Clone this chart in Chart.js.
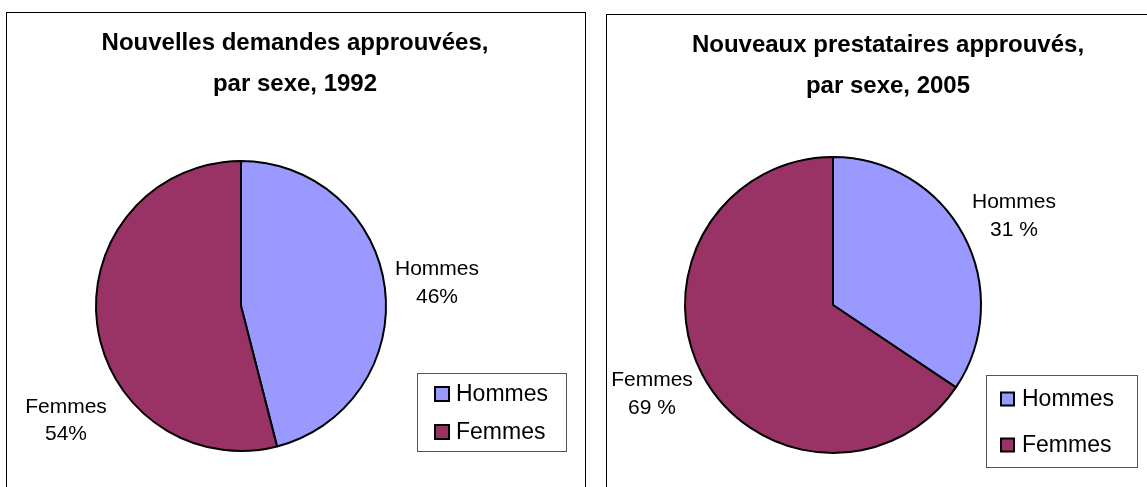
<!DOCTYPE html>
<html>
<head>
<meta charset="utf-8">
<script src="https://cdn.jsdelivr.net/npm/chart.js@4/dist/chart.umd.min.js"></script>
<style>
  html, body { margin: 0; padding: 0; background: #fff; width: 1147px; height: 487px; overflow: hidden; }
  .box { position: absolute; border: 1.5px solid #000; box-sizing: border-box; }
  canvas { position: absolute; }
</style>
</head>
<body>
<div class="box" style="left:6px; top:12px; width:580px; height:500px;"></div>
<div class="box" style="left:606px; top:14px; width:560px; height:500px;"></div>
<canvas id="c1" width="595" height="487" style="left:0; top:0;"></canvas>
<canvas id="c2" width="551" height="487" style="left:596px; top:0;"></canvas>
<script>
// ---- data ----
const categories = ["Hommes", "Femmes"];
const values1992 = [46, 54];
const labels1992 = ["46%", "54%"];
const values2005 = [34.4, 65.6];   // slice sizes as drawn
const labels2005 = ["31 %", "69 %"];
const title1992 = ["Nouvelles demandes approuvées,", "par sexe, 1992"];
const title2005 = ["Nouveaux prestataires approuvés,", "par sexe, 2005"];
const sliceColors = ["#9999FF", "#993366"];

const FONT = '"Liberation Sans", Arial, Helvetica, sans-serif';

function makeDecor(cfg) {
  return {
    id: 'decor',
    afterDraw(chart) {
      const ctx = chart.ctx;
      ctx.save();
      // title
      ctx.fillStyle = '#000';
      ctx.textAlign = 'center';
      ctx.textBaseline = 'middle';
      ctx.font = 'bold 24px ' + FONT;
      cfg.title.forEach((t, i) => ctx.fillText(t, cfg.titleX, cfg.titleY[i]));
      // data labels
      ctx.font = '21px ' + FONT;
      cfg.dataLabels.forEach((d, i) => {
        ctx.fillText(categories[i], d.x, d.y);
        ctx.fillText(cfg.pct[i], d.x, d.y + d.dy);
      });
      // legend
      const L = cfg.legend;
      ctx.strokeStyle = '#555';
      ctx.lineWidth = 1;
      ctx.strokeRect(L.x + 0.5, L.y + 0.5, L.w, L.h);
      ctx.font = L.font + 'px ' + FONT;
      ctx.textAlign = 'left';
      categories.forEach((c, i) => {
        const cy = L.rowY[i];
        ctx.fillStyle = sliceColors[i];
        ctx.fillRect(L.mx, cy - L.ms / 2, L.ms, L.ms);
        ctx.strokeStyle = '#000';
        ctx.lineWidth = 2;
        ctx.strokeRect(L.mx, cy - L.ms / 2, L.ms, L.ms);
        ctx.fillStyle = '#000';
        ctx.fillText(c, L.tx, cy + 1);
      });
      ctx.restore();
    }
  };
}

function makePie(id, values, padding, decor) {
  return new Chart(document.getElementById(id), {
    type: 'pie',
    data: {
      labels: categories,
      datasets: [{
        data: values,
        backgroundColor: sliceColors,
        borderColor: '#000',
        borderWidth: 2
      }]
    },
    options: {
      responsive: false,
      animation: false,
      devicePixelRatio: 1,
      layout: { padding: padding },
      plugins: { legend: { display: false }, title: { display: false }, tooltip: { enabled: false } }
    },
    plugins: [decor]
  });
}

makePie('c1', values1992, { left: 95, top: 160, right: 208, bottom: 35 }, makeDecor({
  title: title1992, titleX: 295, titleY: [43, 84],
  pct: labels1992,
  dataLabels: [{ x: 437, y: 269, dy: 28 }, { x: 66, y: 407, dy: 27 }],
  legend: { x: 417, y: 373, w: 149, h: 78, mx: 435, ms: 14, tx: 456, rowY: [394, 432], font: 23 }
}));

makePie('c2', values2005, { left: 88, top: 156, right: 165, bottom: 33 }, makeDecor({
  title: title2005, titleX: 292, titleY: [45, 86],
  pct: labels2005,
  dataLabels: [{ x: 418, y: 202, dy: 28 }, { x: 56, y: 380, dy: 28 }],
  legend: { x: 390, y: 375, w: 151, h: 92, mx: 405, ms: 13, tx: 426, rowY: [399, 445], font: 23 }
}));
</script>
</body>
</html>
